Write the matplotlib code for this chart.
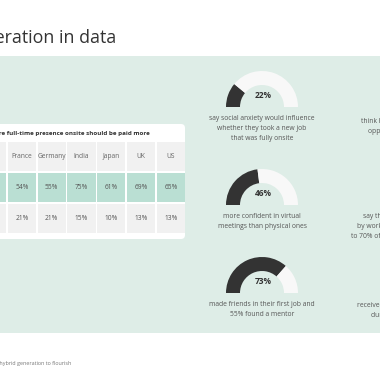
import matplotlib
matplotlib.use("Agg")
import matplotlib.pyplot as plt
from matplotlib.patches import Rectangle, Wedge, FancyBboxPatch

plt.rcParams['font.family'] = ['Open Sans', 'DejaVu Sans']

# ---- data ----
title = "The hybrid generation in data"
table_title = "Employees with more full-time presence onsite should be paid more"
countries = ["France", "Germany", "India", "Japan", "UK", "US"]
row_labels = ["Agree", "Disagree"]
agree = [54, 55, 75, 61, 69, 65]
disagree = [21, 21, 15, 10, 13, 13]

gauge_values = [22, 46, 73]
gauge_labels = [
    "say social anxiety would influence\nwhether they took a new job\nthat was fully onsite",
    "more confident in virtual\nmeetings than physical ones",
    "made friends in their first job and\n55% found a mentor",
]
right_values = [40, 50, 60]
right_labels = [
    "think hybrid working gives you more\nopportunities to progress more",
    "say they would be more productive\nby working remotely for a period of up\nto 70% of their total working week or more",
    "received virtual onboarding or training\nduring the Covid-19 pandemic",
]
footnote = "Report: Enabling the hybrid generation to flourish"

# ---- colours ----
BG_GREEN = "#deede7"
ROW_GREEN = "#badfd3"
CELL_GREY = "#f1f1f1"
DARK = "#333333"
ARC_LIGHT = "#f8f8f8"
TXT = "#555555"

fig = plt.figure(figsize=(3.8, 3.8), dpi=100)
fig.patch.set_facecolor("white")
ax = fig.add_axes([0, 0, 1, 1])
ax.set_xlim(0, 380)
ax.set_ylim(380, 0)
ax.axis("off")

# title
ax.text(116, 38, title, ha="right", va="center", fontsize=12.8, color="#333333")

# green band
ax.add_patch(Rectangle((-10, 56), 400, 277, facecolor=BG_GREEN, edgecolor="none"))

# table card
ax.add_patch(FancyBboxPatch((-60, 124), 245, 115,
                            boxstyle="round,pad=0,rounding_size=4",
                            facecolor="white", edgecolor="none"))
ax.text(150, 133, table_title, ha="right", va="center", fontsize=4.5,
        fontweight="bold", color="#333333")

col_w = 29.8
x0 = 7
label_x0 = -55
row_tops = [141, 172, 203.5]
row_h = 30.5
row_cols = [CELL_GREY, ROW_GREEN, CELL_GREY]
gap = 0.8
for r, (top, colr) in enumerate(zip(row_tops, row_cols)):
    # label column
    ax.add_patch(Rectangle((label_x0, top + gap), x0 - label_x0 - gap, row_h - 2 * gap,
                           facecolor=colr, edgecolor="none"))
    for c in range(len(countries)):
        ax.add_patch(Rectangle((x0 + c * col_w + gap, top + gap), col_w - 2 * gap,
                               row_h - 2 * gap, facecolor=colr, edgecolor="none"))
ax.text(-32, row_tops[1] + row_h / 2, row_labels[0], ha="center", va="center",
        fontsize=5, color=TXT)
ax.text(-32, row_tops[2] + row_h / 2, row_labels[1], ha="center", va="center",
        fontsize=5, color=TXT)
for c, name in enumerate(countries):
    cx = x0 + (c + 0.5) * col_w
    ax.text(cx, row_tops[0] + row_h / 2, name, ha="center", va="center",
            fontsize=4.8, color="#666666")
    ax.text(cx, row_tops[1] + row_h / 2, f"{agree[c]}%", ha="center", va="center",
            fontsize=4.8, color=TXT)
    ax.text(cx, row_tops[2] + row_h / 2, f"{disagree[c]}%", ha="center", va="center",
            fontsize=4.8, color=TXT)


def gauge(cx, cy, val, label, show_pct=True):
    r_out, w = 36, 14
    split = 180 + 180 * val / 100.0
    ax.add_patch(Wedge((cx, cy), r_out, 180, split, width=w,
                       facecolor=DARK, edgecolor="none"))
    ax.add_patch(Wedge((cx, cy), r_out, split, 360, width=w,
                       facecolor=ARC_LIGHT, edgecolor="none"))
    if show_pct:
        ax.text(cx + 1, cy - 12, f"{val}%", ha="center", va="center",
                fontsize=6, fontweight="bold", color=DARK)
    ax.text(cx, cy + 8, label, ha="center", va="top", fontsize=4.9,
            color=TXT, linespacing=1.55)


centers_y = [107, 205, 293]
for cy, v, lab in zip(centers_y, gauge_values, gauge_labels):
    gauge(262, cy, v, lab)

right_y = [110, 205, 294]
for cy, v, lab in zip(right_y, right_values, right_labels):
    gauge(418, cy, v, lab)

ax.text(71, 364, footnote, ha="right", va="center", fontsize=3.9, color="#777777")

fig.savefig("out.png", dpi=100, facecolor="white")
